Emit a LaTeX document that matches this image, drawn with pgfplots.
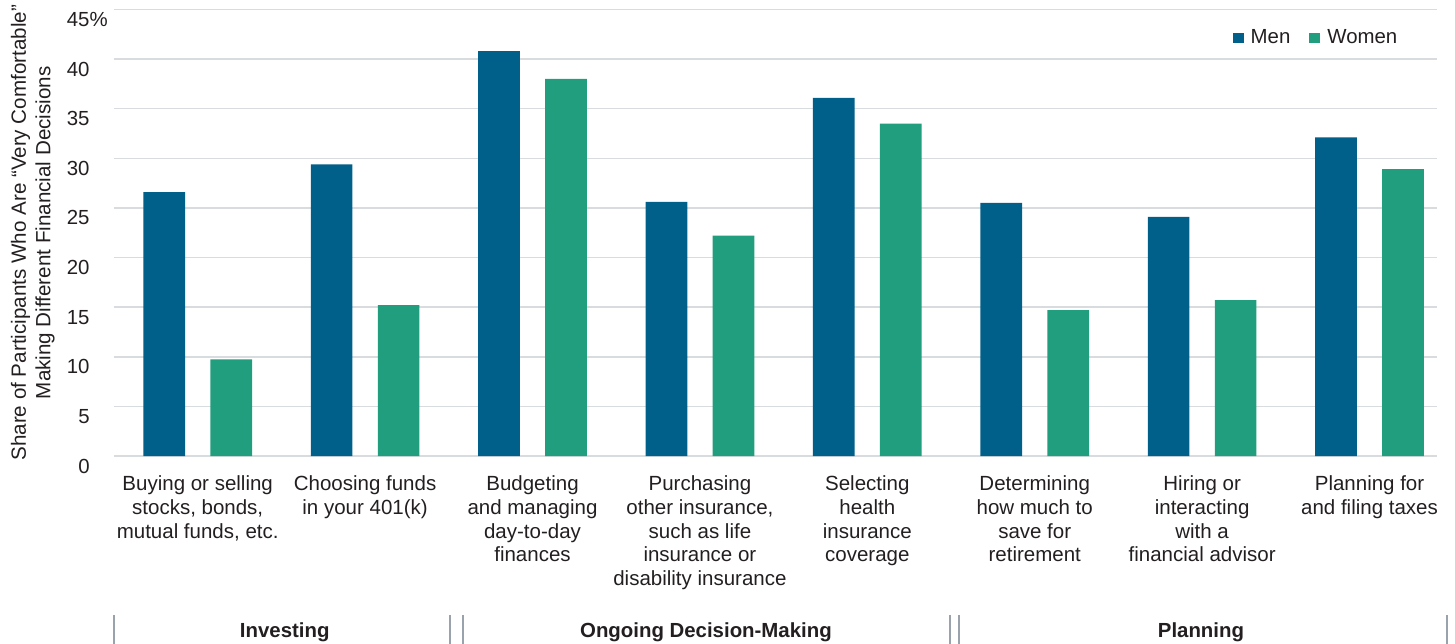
\documentclass[border=0pt]{standalone}
\usepackage{fontspec}
\setmainfont{Liberation Sans}
\usepackage{pgfplots}
\pgfplotsset{compat=1.18}
\definecolor{men}{HTML}{00608A}
\definecolor{women}{HTML}{219E7E}
\definecolor{gridc}{HTML}{D9DCDF}
\definecolor{sepc}{HTML}{9AA3AB}
\definecolor{txt}{HTML}{231F20}
\begin{document}
\begin{tikzpicture}
\useasboundingbox (-57pt,-93.5pt) rectangle (670.5pt,228pt);
\begin{axis}[
  at={(0,0)}, anchor=south west,
  scale only axis, width=661.25pt, height=223.25pt,
  xmin=-0.5, xmax=7.4, ymin=0, ymax=45,
  ybar=12.65pt, bar width=20.85pt,
  axis line style={draw=none},
  major tick style={draw=none}, minor tick style={draw=none},
  ymajorgrids, grid style={draw=gridc, line width=0.75pt},
  /pgf/number format/assume math mode=true,
  ytick={0,5,...,45},
  yticklabels={0,5,10,15,20,25,30,35,40,45\rlap{\%}},
  yticklabel style={anchor=east, inner sep=0pt, xshift=-12pt, yshift=-5pt,
    font=\fontsize{10.2}{12}\selectfont, text=txt},
  xtick={0,...,7},
  xticklabels={
    {Buying or selling\\stocks, bonds,\\mutual funds, etc.},
    {Choosing funds\\in your 401(k)},
    {Budgeting\\and managing\\day-to-day\\finances},
    {Purchasing\\other insurance,\\such as life\\insurance or\\disability insurance},
    {Selecting\\health\\insurance\\coverage},
    {Determining\\how much to\\save for\\retirement},
    {Hiring or\\interacting\\with a\\financial advisor},
    {Planning for\\and filing taxes}},
  xticklabel style={anchor=north, align=center, inner sep=0pt, yshift=-5.5pt,
    font=\fontsize{10.25}{11.85}\selectfont, text=txt},
  ylabel={Share of Participants Who Are “Very Comfortable”\\Making Different Financial Decisions},
  ylabel style={at={(axis description cs:-0.0445,0.5)}, anchor=south, inner sep=0pt,
    align=center, font=\fontsize{10.3}{12.3}\selectfont, text=txt},
  clip=false,
  legend columns=2,
  legend style={at={(0.8459,0.937)}, anchor=west, draw=none, fill=none,
    inner sep=0pt, outer sep=0pt, column sep=0pt,
    font=\fontsize{10.2}{12}\selectfont, text=txt, nodes={inner sep=0pt},
    /tikz/every odd column/.append style={column sep=3.5pt},
    /tikz/every even column/.append style={column sep=9.5pt}},
  legend image code/.code={\fill[#1] (0pt,-2.5pt) rectangle (5.5pt,2.5pt);},
]
\addplot[fill=men, draw=none] coordinates {(0,26.6) (1,29.4) (2,40.8) (3,25.6) (4,36.1) (5,25.5) (6,24.1) (7,32.1)};
\addplot[fill=women, draw=none] coordinates {(0,9.75) (1,15.2) (2,38.0) (3,22.2) (4,33.5) (5,14.7) (6,15.7) (7,28.9)};
\legend{Men, Women}
\draw[sepc, line width=1pt] (axis cs:-0.5,-16.03) -- (axis cs:-0.5,-19);
\draw[sepc, line width=1pt] (axis cs:1.507,-16.03) -- (axis cs:1.507,-19);
\draw[sepc, line width=1pt] (axis cs:1.587,-16.03) -- (axis cs:1.587,-19);
\draw[sepc, line width=1pt] (axis cs:4.492,-16.03) -- (axis cs:4.492,-19);
\draw[sepc, line width=1pt] (axis cs:4.547,-16.03) -- (axis cs:4.547,-19);
\draw[sepc, line width=1pt] (axis cs:7.463,-16.03) -- (axis cs:7.463,-19);
\node[anchor=base, font=\bfseries\fontsize{10.2}{12}\selectfont, text=txt] at (axis cs:0.52,-18.31) {Investing};
\node[anchor=base, font=\bfseries\fontsize{10.2}{12}\selectfont, text=txt] at (axis cs:3.036,-18.31) {Ongoing Decision-Making};
\node[anchor=base, font=\bfseries\fontsize{10.2}{12}\selectfont, text=txt] at (axis cs:5.993,-18.31) {Planning};
\end{axis}
\end{tikzpicture}
\end{document}
